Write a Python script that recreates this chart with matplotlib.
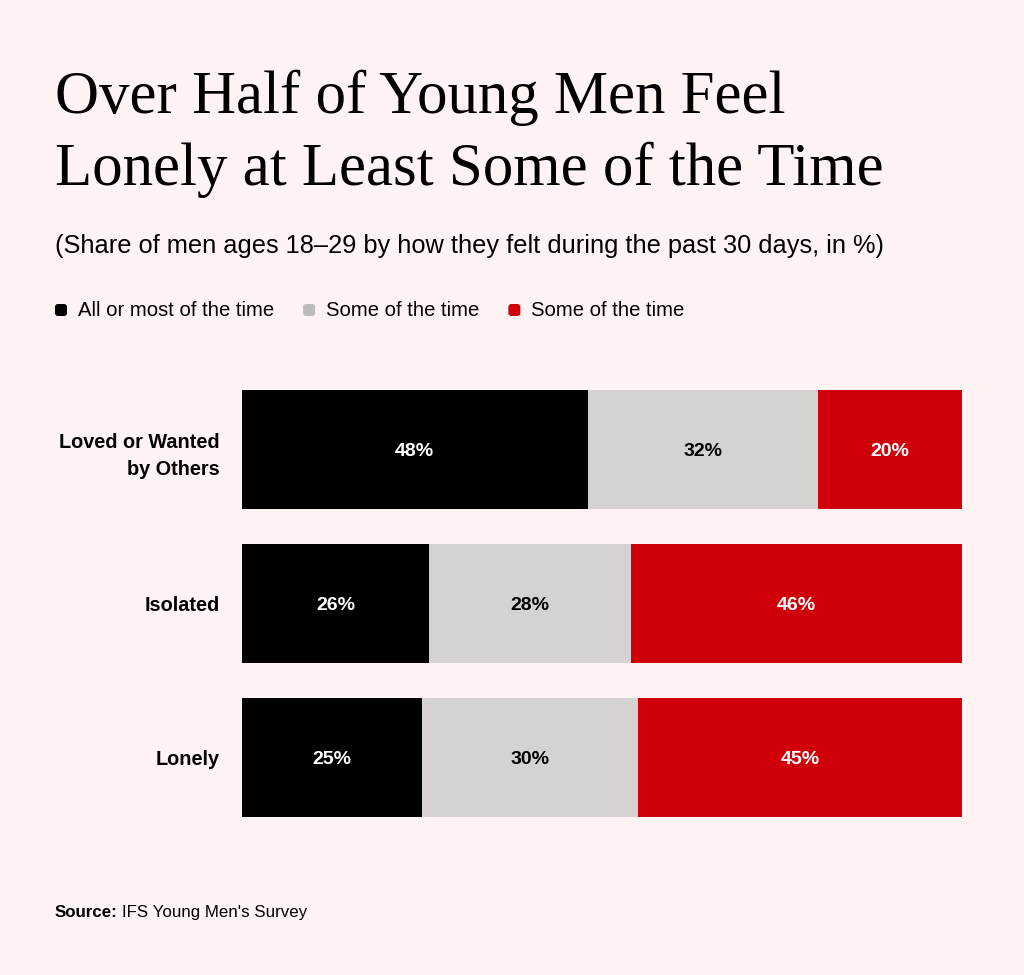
import numpy as np
import matplotlib.pyplot as plt
from matplotlib.patches import FancyBboxPatch

# --- data
categories = ["Loved or Wanted\nby Others", "Isolated", "Lonely"]
series_names = ["All or most of the time", "Some of the time", "Some of the time"]
all_most = [48, 26, 25]
some = [32, 28, 30]
rest = [20, 46, 45]

BG = "#FFF3F3"
bar_colors = ["#000000", "#D6D2D2", "#D0000B"]
legend_colors = ["#000000", "#BDBBBB", "#D0000B"]
text_colors = ["white", "black", "white"]

plt.rcParams["font.family"] = ["Liberation Sans", "DejaVu Sans"]

W, H = 1024, 975
fig = plt.figure(figsize=(W / 100, H / 100), dpi=100, facecolor=BG)

# axes placed in pixel terms
left, right, top, bottom = 242, 962, 390, 817
ax = fig.add_axes([left / W, 1 - bottom / H, (right - left) / W, (bottom - top) / H])
ax.set_facecolor(BG)

bar_h = 119 / 154
y = np.arange(len(categories))
values = [all_most, some, rest]
start = np.zeros(len(categories))
for vals, col, tcol in zip(values, bar_colors, text_colors):
    vals = np.array(vals, dtype=float)
    ax.barh(y, vals, left=start, height=bar_h, color=col, edgecolor="none")
    for yi, s, v in zip(y, start, vals):
        ax.text(s + v / 2, yi, f"{int(v)}%", ha="center", va="center_baseline",
                color=tcol, fontsize=14, fontweight="bold")
    start += vals

ax.set_xlim(0, 100)
ax.set_ylim(len(categories) - 1 + bar_h / 2, -bar_h / 2)
ax.set_yticks(y)
ax.set_yticklabels(categories, fontsize=14.3, fontweight="bold", linespacing=1.55)
ax.tick_params(axis="y", length=0, pad=16)
ax.set_xticks([])
for sp in ax.spines.values():
    sp.set_visible(False)

# --- titles
fig.text(55 / W, 1 - 113 / H, "Over Half of Young Men Feel", family="Liberation Serif",
         fontsize=43.8, va="baseline", ha="left")
fig.text(55 / W, 1 - 185 / H, "Lonely at Least Some of the Time", family="Liberation Serif",
         fontsize=43.8, va="baseline", ha="left")
fig.text(55 / W, 1 - 253 / H,
         "(Share of men ages 18\u201329 by how they felt during the past 30 days, in %)",
         fontsize=18.3, va="baseline", ha="left")

# --- legend (manual, inline)
fig.canvas.draw()
renderer = fig.canvas.get_renderer()
x = 55
ly = 310
for name, col in zip(series_names, legend_colors):
    box = FancyBboxPatch((x / W, (H - ly - 6) / H), 12 / W, 12 / H,
                         boxstyle="round,pad=0,rounding_size=0.003",
                         transform=fig.transFigure, facecolor=col, edgecolor="none")
    fig.patches.append(box)
    t = fig.text((x + 23) / W, 1 - ly / H, name, fontsize=14.6, va="center", ha="left")
    bb = t.get_window_extent(renderer)
    x = bb.x1 + 29

# --- source
s1 = fig.text(55 / W, 1 - 917 / H, "Source:", fontsize=12.2, fontweight="bold",
              va="baseline", ha="left")
bb = s1.get_window_extent(renderer)
fig.text((bb.x1 + 4) / W, 1 - 917 / H, "IFS Young Men's Survey", fontsize=12.2,
         va="baseline", ha="left")

fig.savefig("out.png", dpi=100, facecolor=BG)
